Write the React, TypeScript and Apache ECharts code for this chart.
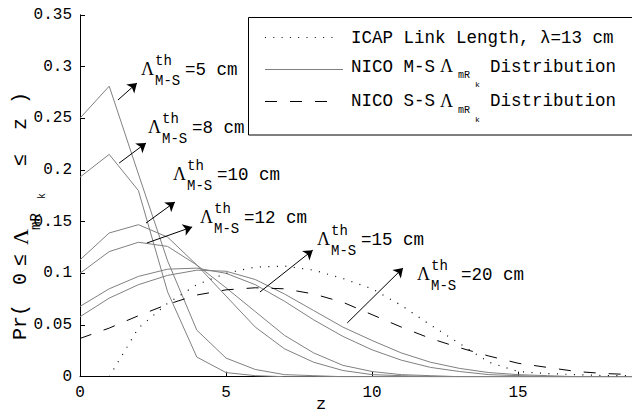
import React, { useEffect, useRef } from "react";
import * as echarts from "echarts";

// z positions (cm)
const zValues = [0, 1, 2, 3, 4, 5, 6, 7, 8, 9, 10, 11, 12, 13, 14, 15, 16, 17, 18, 19];

// ICAP link length distribution, lambda = 13 cm (dotted)
const icapValues = [null, 0, 0.047, 0.071, 0.089, 0.1, 0.106, 0.107, 0.103, 0.095, 0.085, 0.069, 0.05, 0.032, 0.014, 0.005, 0.003, 0.002, 0.001, 0.001];

// NICO S-S distribution (dashed)
const ssValues = [0.037, 0.047, 0.059, 0.07, 0.079, 0.084, 0.086, 0.085, 0.08, 0.072, 0.06, 0.048, 0.037, 0.028, 0.02, 0.013, 0.009, 0.005, 0.003, 0.002];

// NICO M-S distributions (solid grey), by threshold
const ms5 = [0.25, 0.281, 0.196, 0.112, 0.045, 0.018, 0.007, 0.002, 0.001, 0, 0, 0, 0, 0, 0, 0, 0, 0, 0, 0];
const ms8 = [0.193, 0.215, 0.18, 0.082, 0.019, 0.004, 0.001, 0, 0, 0, 0, 0, 0, 0, 0, 0, 0, 0, 0, 0];
const ms10 = [0.113, 0.139, 0.147, 0.135, 0.108, 0.078, 0.048, 0.027, 0.014, 0.006, 0.002, 0.001, 0, 0, 0, 0, 0, 0, 0, 0];
const ms12 = [0.1, 0.121, 0.13, 0.126, 0.108, 0.086, 0.063, 0.04, 0.023, 0.011, 0.005, 0.002, 0.001, 0, 0, 0, 0, 0, 0, 0];
const ms15 = [0.068, 0.085, 0.097, 0.104, 0.105, 0.1, 0.089, 0.073, 0.055, 0.039, 0.026, 0.016, 0.009, 0.005, 0.002, 0.001, 0, 0, 0, 0];
const ms20 = [0.058, 0.076, 0.089, 0.098, 0.103, 0.102, 0.094, 0.08, 0.064, 0.048, 0.035, 0.023, 0.014, 0.008, 0.004, 0.002, 0.001, 0, 0, 0];

const msSeries = [ms5, ms8, ms10, ms12, ms15, ms20];

// tick labels
const xTicks = [0, 5, 10, 15];

// annotation arrows in data coordinates: [zStart, vStart, zEnd, vEnd]
const arrows = [
  [1.3, 0.2676, 1.95, 0.284],
  [1.34, 0.2066, 2.26, 0.226],
  [2.26, 0.1486, 3.25, 0.1689],
  [2.29, 0.1293, 3.84, 0.1448],
  [6.16, 0.0819, 7.97, 0.1224],
  [9.15, 0.052, 11.06, 0.1052],
];
const thresholdLabels = ["=5 cm", "=8 cm", "=10 cm", "=12 cm", "=15 cm", "=20 cm"];

const MONO = "Liberation Mono";
const SERIF = "Liberation Serif";

function txt(text: string, x: number, y: number, size: number, family = MONO, extra: any = {}, z = 0) {
  return {
    type: "text",
    x,
    y,
    z,
    style: {
      text,
      fontSize: size,
      fontFamily: family,
      fill: "#000",
      verticalAlign: "middle",
      align: "left",
      ...extra,
    },
  };
}

function lambdaLabel(L: number, C: number, eq: string) {
  return {
    type: "group",
    x: L,
    y: C,
    children: [
      txt("Λ", 0, 0, 18, SERIF),
      txt("th", 14, -8, 14),
      txt("M-S", 14, 12, 14),
      txt(eq, 44, 1, 17.5),
    ],
  };
}

const labelPos = [
  [141, 69],
  [148, 127],
  [173, 174],
  [200, 216.5],
  [317, 239],
  [417, 274],
];

export default function App() {
  const ref = useRef<HTMLDivElement>(null);
  useEffect(() => {
    if (!ref.current) return;
    const chart = echarts.init(ref.current, undefined, { renderer: "svg" });
    const toData = (arr: (number | null)[]) => zValues.map((z, i) => [z, arr[i]]);

    const series: any[] = [];
    series.push({
      type: "line",
      name: "ICAP",
      data: toData(icapValues),
      symbol: "none",
      lineStyle: { color: "#000", width: 1.2, type: [1, 7.5] },
      z: 3,
      markLine: {
        silent: true,
        symbol: ["none", "arrow"],
        symbolSize: 9,
        label: { show: false },
        lineStyle: { color: "#000", type: "solid", width: 1 },
        emphasis: { disabled: true },
        data: arrows.map((a) => [{ coord: [a[0], a[1]] }, { coord: [a[2], a[3]] }]),
      },
    });
    series.push({
      type: "line",
      name: "SS",
      data: toData(ssValues),
      symbol: "none",
      lineStyle: { color: "#000", width: 1, type: [12, 13] },
      z: 3,
    });
    msSeries.forEach((s, i) => {
      series.push({
        type: "line",
        name: "MS" + i,
        data: toData(s),
        symbol: "none",
        lineStyle: { color: "#808080", width: 1 },
        z: 2,
      });
    });

    const graphic: any[] = [];
    // threshold labels
    labelPos.forEach((p, i) => graphic.push(lambdaLabel(p[0], p[1], thresholdLabels[i])));

    // legend
    const LZ = 60;
    graphic.push({
      type: "rect",
      shape: { x: 248.5, y: 17.5, width: 400, height: 117.5 },
      style: { fill: "#fff", stroke: "#000", lineWidth: 1 },
      z: 50,
    });
    graphic.push({ type: "line", z: LZ, shape: { x1: 265, y1: 37.5, x2: 337, y2: 37.5 }, style: { stroke: "#000", lineWidth: 1.2, lineDash: [1, 7.3] } });
    graphic.push(txt("ICAP Link Length, λ=13 cm", 351, 38, 17.5, MONO, {}, LZ));
    graphic.push({ type: "line", z: LZ, shape: { x1: 265, y1: 69.5, x2: 343, y2: 69.5 }, style: { stroke: "#808080", lineWidth: 1 } });
    graphic.push(txt("NICO M-S", 351, 67, 17.5, MONO, {}, LZ));
    graphic.push(txt("Λ", 440, 66, 18, SERIF, {}, LZ));
    graphic.push(txt("mR", 458, 75, 10, MONO, {}, LZ));
    graphic.push(txt("k", 475, 84.5, 8, MONO, {}, LZ));
    graphic.push(txt("Distribution", 490, 67, 17.5, MONO, {}, LZ));
    graphic.push({ type: "line", z: LZ, shape: { x1: 265, y1: 101.5, x2: 330, y2: 101.5 }, style: { stroke: "#000", lineWidth: 1, lineDash: [12, 13] } });
    graphic.push(txt("NICO S-S", 351, 101, 17.5, MONO, {}, LZ));
    graphic.push(txt("Λ", 440, 101, 18, SERIF, {}, LZ));
    graphic.push(txt("mR", 458, 110, 10, MONO, {}, LZ));
    graphic.push(txt("k", 475, 119, 8, MONO, {}, LZ));
    graphic.push(txt("Distribution", 490, 101, 17.5, MONO, {}, LZ));

    // x-axis name
    graphic.push(txt("z", 321, 404, 17, MONO, { align: "center" }));

    // y-axis name (rotated)
    graphic.push({
      type: "group",
      x: 20,
      y: 340,
      rotation: Math.PI / 2,
      children: [
        txt("Pr(", 0, 0, 20),
        txt("0", 55, 0, 20),
        txt("≤", 74, 0, 20),
        txt("Λ", 95, 0, 22, SERIF),
        txt("mR", 110, 16, 14),
        txt("k", 141, 22, 10),
        txt("≤", 174, 0, 20),
        txt("z", 210, 0, 20),
        txt(")", 236, 0, 20),
      ],
    });

    chart.setOption({
      animation: false,
      backgroundColor: "#fff",
      grid: { left: 80, right: 0, top: 14.8, bottom: 37.3 },
      xAxis: {
        type: "value",
        min: 0,
        max: 18.9,
        interval: 5,
        axisLine: { show: true, lineStyle: { color: "#000", width: 1 } },
        axisTick: { show: true, inside: true, length: 5, lineStyle: { color: "#000" }, customValues: xTicks },
        axisLabel: { color: "#000", fontFamily: MONO, fontSize: 16, margin: 8, customValues: xTicks },
        splitLine: { show: false },
      },
      yAxis: {
        type: "value",
        min: 0,
        max: 0.35,
        interval: 0.05,
        axisLine: { show: true, lineStyle: { color: "#000", width: 1 } },
        axisTick: { show: true, inside: true, length: 5, lineStyle: { color: "#000" } },
        axisLabel: { color: "#000", fontFamily: MONO, fontSize: 16, margin: 8 },
        splitLine: { show: false },
      },
      series,
      graphic,
    });
    return () => chart.dispose();
  }, []);
  return (
    <div
      ref={ref}
      style={{ position: "fixed", left: 0, top: 0, width: 632, height: 414, background: "#fff" }}
    />
  );
}
